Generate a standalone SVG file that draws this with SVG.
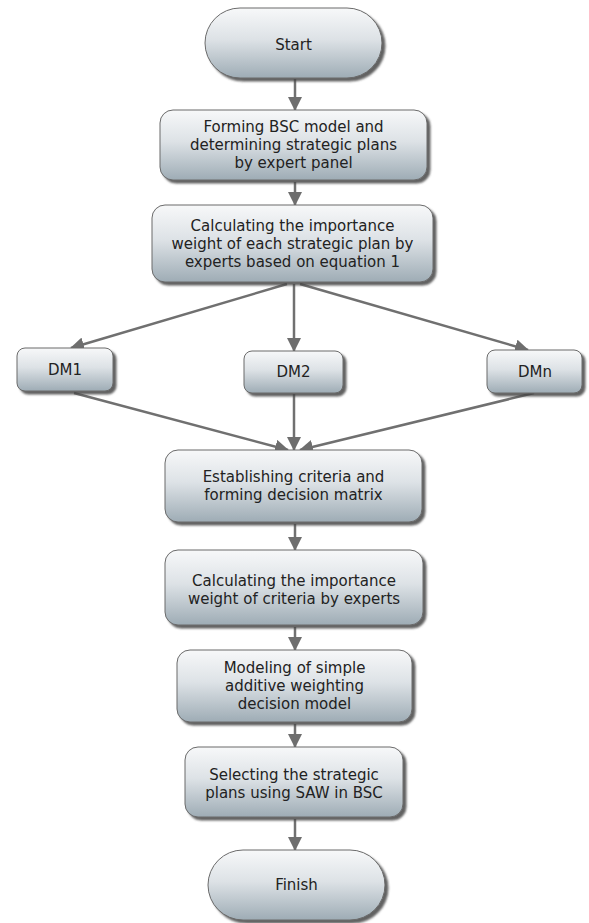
<svg xmlns="http://www.w3.org/2000/svg" width="589" height="923" viewBox="0 0 589 923">
<defs>
  <linearGradient id="g" x1="0" y1="0" x2="0" y2="1">
    <stop offset="0" stop-color="#f7f8f9"/>
    <stop offset="0.45" stop-color="#dde2e6"/>
    <stop offset="1" stop-color="#9eacb5"/>
  </linearGradient>
  <filter id="sh" x="-10%" y="-10%" width="125%" height="130%">
    <feDropShadow dx="3" dy="3" stdDeviation="1" flood-color="#444" flood-opacity="0.85"/>
  </filter>
  <marker id="ah" viewBox="0 0 14 14" refX="13" refY="7" markerWidth="14" markerHeight="14" markerUnits="userSpaceOnUse" orient="auto">
    <path d="M0,0 L14,7 L0,14 z" fill="#6e6e6e"/>
  </marker>
  <style>
    .n { fill: url(#g); stroke: #6a6a6a; stroke-width: 1; filter: url(#sh); }
    .t { font-family: "DejaVu Sans", Verdana, sans-serif; font-size: 15px; fill: #222; text-anchor: middle; }
    .c { stroke: #707070; stroke-width: 2.5; fill: none; marker-end: url(#ah); }
  </style>
</defs>
<rect width="589" height="923" fill="#fff"/>

<g id="connectors">
  <line class="c" x1="295" y1="79" x2="295" y2="110"/>
  <line class="c" x1="295" y1="182" x2="295" y2="205"/>
  <line class="c" x1="287" y1="284" x2="71" y2="348"/>
  <line class="c" x1="294" y1="284" x2="294" y2="351"/>
  <line class="c" x1="300" y1="284" x2="528" y2="350"/>
  <line class="c" x1="74" y1="393" x2="288" y2="450"/>
  <line class="c" x1="294" y1="394" x2="294" y2="450"/>
  <line class="c" x1="534" y1="393" x2="300" y2="450"/>
  <line class="c" x1="295" y1="524" x2="295" y2="550"/>
  <line class="c" x1="295" y1="627" x2="295" y2="650"/>
  <line class="c" x1="295" y1="724" x2="295" y2="747"/>
  <line class="c" x1="295" y1="819" x2="295" y2="850"/>
</g>

<g id="start">
  <rect class="n" x="205" y="8" width="177" height="70" rx="35" ry="35"/>
  <text class="t" x="293.5" y="50">Start</text>
</g>

<g id="forming-bsc">
  <rect class="n" x="160" y="110" width="267" height="70" rx="13" ry="13"/>
  <text class="t" x="293.5" y="132">Forming BSC model and</text>
  <text class="t" x="293.5" y="150">determining strategic plans</text>
  <text class="t" x="293.5" y="168">by expert panel</text>
</g>

<g id="calc-plans">
  <rect class="n" x="152" y="205" width="281" height="77" rx="13" ry="13"/>
  <text class="t" x="292.5" y="231">Calculating the importance</text>
  <text class="t" x="292.5" y="249">weight of each strategic plan by</text>
  <text class="t" x="292.5" y="267">experts based on equation 1</text>
</g>

<g id="dm1">
  <rect class="n" x="17" y="348" width="96" height="43" rx="8" ry="8"/>
  <text class="t" x="65" y="375">DM1</text>
</g>

<g id="dm2">
  <rect class="n" x="244" y="351" width="99" height="42" rx="8" ry="8"/>
  <text class="t" x="293.5" y="377">DM2</text>
</g>

<g id="dmn">
  <rect class="n" x="487" y="350" width="95" height="43" rx="8" ry="8"/>
  <text class="t" x="535" y="377">DMn</text>
</g>

<g id="establishing">
  <rect class="n" x="165" y="450" width="257" height="72" rx="13" ry="13"/>
  <text class="t" x="293.5" y="482">Establishing criteria and</text>
  <text class="t" x="293.5" y="500">forming decision matrix</text>
</g>

<g id="calc-criteria">
  <rect class="n" x="165" y="550" width="258" height="75" rx="13" ry="13"/>
  <text class="t" x="294" y="586">Calculating the importance</text>
  <text class="t" x="294" y="604">weight of criteria by experts</text>
</g>

<g id="modeling">
  <rect class="n" x="177" y="650" width="235" height="72" rx="13" ry="13"/>
  <text class="t" x="294.5" y="673">Modeling of simple</text>
  <text class="t" x="294.5" y="691">additive weighting</text>
  <text class="t" x="294.5" y="709">decision model</text>
</g>

<g id="selecting">
  <rect class="n" x="185" y="747" width="218" height="70" rx="13" ry="13"/>
  <text class="t" x="294" y="780">Selecting the strategic</text>
  <text class="t" x="294" y="798">plans using SAW in BSC</text>
</g>

<g id="finish">
  <rect class="n" x="208" y="850" width="177" height="70" rx="35" ry="35"/>
  <text class="t" x="296.5" y="890">Finish</text>
</g>
</svg>
